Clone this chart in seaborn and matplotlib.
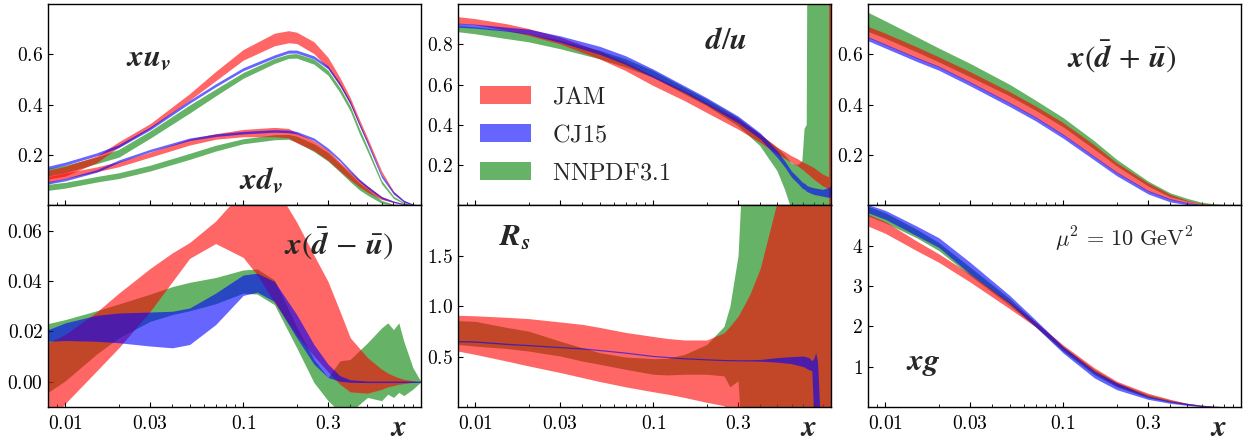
import matplotlib
matplotlib.use("Agg")
import matplotlib.pyplot as plt
import seaborn as sns
from matplotlib.patches import Patch
from matplotlib.ticker import FixedLocator, FixedFormatter, LogLocator, NullFormatter

# ---------------- data ----------------
SERIES = ["JAM", "CJ15", "NNPDF3.1"]

X_VAL = [0.008, 0.01, 0.015, 0.02, 0.03, 0.05, 0.07, 0.1, 0.15, 0.18, 0.2, 0.25,
         0.3, 0.35, 0.4, 0.45, 0.5, 0.6, 0.7, 0.8, 0.9, 1.0]
XUV_JAM_HI = [0.14, 0.156, 0.196, 0.253, 0.325, 0.444, 0.532, 0.619, 0.684, 0.694, 0.688, 0.650,
              0.588, 0.508, 0.428, 0.342, 0.269, 0.137, 0.057, 0.020, 0.004, 0.0]
XUV_JAM_LO = [0.105, 0.117, 0.170, 0.232, 0.306, 0.418, 0.495, 0.577, 0.634, 0.646, 0.643, 0.603,
              0.545, 0.475, 0.402, 0.320, 0.249, 0.123, 0.049, 0.015, 0.001, 0.0]
XUV_CJ_HI = [0.156, 0.172, 0.209, 0.242, 0.312, 0.418, 0.483, 0.547, 0.598, 0.617, 0.617, 0.594,
             0.554, 0.487, 0.414, 0.328, 0.255, 0.123, 0.055, 0.021, 0.006, 0.0]
XUV_CJ_LO = [0.144, 0.160, 0.197, 0.230, 0.300, 0.406, 0.471, 0.535, 0.586, 0.605, 0.605, 0.582,
             0.542, 0.475, 0.402, 0.316, 0.243, 0.111, 0.045, 0.013, 0.002, 0.0]
XUV_NN_HI = [0.147, 0.160, 0.192, 0.223, 0.296, 0.399, 0.462, 0.528, 0.584, 0.601, 0.603, 0.581,
             0.537, 0.468, 0.395, 0.306, 0.232, 0.099, 0.037, 0.012, 0.003, 0.0]
XUV_NN_LO = [0.117, 0.130, 0.166, 0.192, 0.267, 0.367, 0.435, 0.505, 0.564, 0.584, 0.585, 0.561,
             0.517, 0.448, 0.375, 0.285, 0.214, 0.086, 0.028, 0.007, 0.0, 0.0]

XDV_JAM_HI = [0.115, 0.129, 0.153, 0.174, 0.212, 0.264, 0.285, 0.302, 0.310, 0.306, 0.289, 0.257,
              0.219, 0.172, 0.134, 0.102, 0.077, 0.036, 0.017, 0.007, 0.001, 0.0]
XDV_JAM_LO = [0.092, 0.107, 0.134, 0.154, 0.192, 0.240, 0.263, 0.273, 0.273, 0.268, 0.249, 0.218,
              0.179, 0.137, 0.102, 0.074, 0.053, 0.024, 0.012, 0.004, 0.0, 0.0]
XDV_CJ_HI = [0.095, 0.108, 0.142, 0.181, 0.223, 0.268, 0.284, 0.294, 0.301, 0.299, 0.294, 0.268,
             0.228, 0.185, 0.142, 0.105, 0.078, 0.035, 0.018, 0.007, 0.002, 0.0]
XDV_CJ_LO = [0.085, 0.098, 0.132, 0.171, 0.213, 0.258, 0.274, 0.284, 0.291, 0.289, 0.284, 0.258,
             0.218, 0.175, 0.132, 0.095, 0.068, 0.027, 0.012, 0.003, 0.0, 0.0]
XDV_NN_HI = [0.084, 0.092, 0.115, 0.130, 0.160, 0.207, 0.239, 0.265, 0.281, 0.282, 0.275, 0.245,
             0.210, 0.166, 0.126, 0.090, 0.065, 0.020, 0.005, 0.001, 0.0, 0.0]
XDV_NN_LO = [0.060, 0.069, 0.093, 0.107, 0.137, 0.183, 0.216, 0.245, 0.261, 0.263, 0.251, 0.214,
             0.176, 0.133, 0.094, 0.062, 0.041, 0.009, 0.001, 0.0, 0.0, 0.0]

X_DU = [0.008, 0.01, 0.015, 0.02, 0.03, 0.05, 0.07, 0.1, 0.15, 0.2, 0.3, 0.4, 0.5, 0.55, 0.6,
        0.65, 0.69, 0.71, 0.73, 0.75, 0.8, 0.9, 0.975, 0.98, 1.0]
DU_JAM_HI = [0.935, 0.925, 0.9, 0.876, 0.834, 0.765, 0.71, 0.643, 0.569, 0.51, 0.428, 0.353, 0.287,
             0.266, 0.245, 0.23, 0.215, 0.21, 0.205, 0.2, 0.187, 0.154, 0.14, 3.0, 3.0]
DU_JAM_LO = [0.90, 0.895, 0.867, 0.842, 0.80, 0.726, 0.668, 0.594, 0.519, 0.46, 0.378, 0.312, 0.254,
             0.233, 0.212, 0.195, 0.178, 0.17, 0.16, 0.152, 0.13, 0.096, 0.08, -1.0, -1.0]
DU_CJ_HI = [0.905, 0.9, 0.885, 0.875, 0.842, 0.79, 0.743, 0.677, 0.594, 0.535, 0.444, 0.36, 0.27,
            0.22, 0.17, 0.14, 0.115, 0.11, 0.10, 0.095, 0.088, 0.08, 0.09, 0.095, 0.096]
DU_CJ_LO = [0.885, 0.88, 0.865, 0.85, 0.81, 0.75, 0.70, 0.635, 0.56, 0.5, 0.41, 0.33, 0.237,
            0.19, 0.14, 0.11, 0.085, 0.08, 0.07, 0.065, 0.055, 0.046, 0.04, 0.04, 0.046]
DU_NN_HI = [0.89, 0.884, 0.867, 0.85, 0.818, 0.768, 0.726, 0.668, 0.585, 0.527, 0.436, 0.353, 0.287,
            0.25, 0.21, 0.2, 0.22, 0.38, 0.40, 3.0, 3.0, 3.0, 3.0, 3.0, 3.0]
DU_NN_LO = [0.86, 0.85, 0.826, 0.81, 0.776, 0.726, 0.685, 0.635, 0.552, 0.494, 0.395, 0.295, 0.17,
            0.08, -0.02, -0.2, -0.3, -0.3, -0.3, -0.3, -1.0, -1.0, -1.0, -1.0, -1.0]

X_SEA = [0.008, 0.01, 0.015, 0.02, 0.03, 0.05, 0.07, 0.1, 0.15, 0.2, 0.3, 0.4, 0.5, 0.6, 0.7,
         0.8, 0.9, 1.0]
SEA_JAM_HI = [0.711, 0.684, 0.630, 0.590, 0.531, 0.452, 0.395, 0.329, 0.240, 0.170, 0.090, 0.044,
              0.020, 0.008, 0.004, 0.001, 0.0005, 0.0]
SEA_JAM_LO = [0.667, 0.638, 0.585, 0.550, 0.488, 0.406, 0.349, 0.280, 0.192, 0.130, 0.057, 0.024,
              0.009, 0.004, 0.001, 0.0, 0.0, 0.0]
SEA_CJ_HI = [0.670, 0.641, 0.588, 0.553, 0.491, 0.409, 0.352, 0.283, 0.195, 0.133, 0.060, 0.027,
             0.011, 0.005, 0.002, 0.001, 0.0, 0.0]
SEA_CJ_LO = [0.654, 0.625, 0.572, 0.537, 0.475, 0.393, 0.336, 0.267, 0.180, 0.118, 0.046, 0.014,
             0.003, 0.001, 0.0, 0.0, 0.0, 0.0]
SEA_NN_HI = [0.767, 0.733, 0.670, 0.625, 0.564, 0.481, 0.418, 0.349, 0.256, 0.183, 0.097, 0.050,
             0.028, 0.013, 0.007, 0.004, 0.001, 0.0]
SEA_NN_LO = [0.691, 0.664, 0.610, 0.570, 0.511, 0.435, 0.378, 0.312, 0.223, 0.157, 0.077, 0.034,
             0.017, 0.007, 0.003, 0.001, 0.0, 0.0]

X_ASYM = [0.008, 0.01, 0.015, 0.02, 0.03, 0.04, 0.05, 0.07, 0.1, 0.12, 0.15, 0.2, 0.25, 0.3,
          0.35, 0.4, 0.5, 0.6, 0.65, 0.7, 0.75, 0.8, 0.9, 1.0]
ASYM_JAM_HI = [0.0155, 0.0188, 0.0277, 0.0352, 0.045, 0.0512, 0.0553, 0.0638, 0.076, 0.08, 0.078,
               0.0634, 0.0503, 0.0398, 0.028, 0.0175, 0.0096, 0.005, 0.0035, 0.0024, 0.0016, 0.001,
               0.0004, 0.0]
ASYM_JAM_LO = [-0.017, -0.0086, 0.0043, 0.0135, 0.028, 0.0398, 0.049, 0.0549, 0.0494, 0.0424,
               0.0315, 0.0185, 0.0102, 0.004, -0.001, -0.004, -0.0045, -0.003, -0.002, -0.0015,
               -0.001, -0.0007, -0.0002, 0.0]
ASYM_CJ_HI = [0.0207, 0.0234, 0.0264, 0.0273, 0.0277, 0.028, 0.0293, 0.0352, 0.0424, 0.0431, 0.0398,
              0.0267, 0.0148, 0.007, 0.0024, 0.0008, 0.0003, 0.0003, 0.0003, 0.0003, 0.0003, 0.0003,
              0.0003, 0.0003]
ASYM_CJ_LO = [0.0161, 0.0164, 0.0161, 0.0155, 0.0142, 0.0135, 0.0148, 0.0227, 0.0343, 0.0356,
              0.0319, 0.0175, 0.007, 0.0017, 0.0002, -0.0002, -0.0003, -0.0003, -0.0003, -0.0003,
              -0.0003, -0.0003, -0.0003, -0.0003]
ASYM_NN_HI = [0.0231, 0.0247, 0.0282, 0.0309, 0.0348, 0.0378, 0.0395, 0.0414, 0.0444, 0.0448,
              0.0404, 0.0218, 0.0089, 0.0017, 0.0083, 0.0089, 0.0155, 0.0214, 0.0234, 0.0207,
              0.0234, 0.0161, 0.0056, 0.0]
ASYM_NN_LO = [-0.0042, 0.0004, 0.011, 0.0175, 0.024, 0.0267, 0.0282, 0.031, 0.0352, 0.0348, 0.0306,
              0.0135, -0.0003, -0.0075, -0.012, -0.012, -0.0062, -0.0075, -0.0049, -0.0062,
              -0.0042, -0.0055, -0.0029, 0.0]

X_RS = [0.008, 0.01, 0.015, 0.02, 0.03, 0.04, 0.05, 0.07, 0.1, 0.12, 0.15, 0.2, 0.25, 0.27, 0.3,
        0.32, 0.35, 0.4, 0.5, 0.6, 0.7, 0.75, 0.78, 0.8, 0.82, 0.84, 0.86, 0.88, 0.9, 1.0]
RS_JAM_HI = [0.91, 0.905, 0.89, 0.877, 0.844, 0.82, 0.79, 0.74, 0.70, 0.68, 0.665, 0.665, 0.736,
             0.80, 0.90, 0.99, 1.12, 1.376, 2.05, 2.5, 2.5, 2.5, 2.5, 2.5, 2.5, 2.5, 2.5, 2.5, 2.5, 2.5]
RS_JAM_LO = [0.555, 0.522, 0.456, 0.407, 0.342, 0.292, 0.253, 0.2, 0.151, 0.128, 0.095, 0.046, 0.013,
             -0.05, -0.5, -0.5, -0.5, -0.5, -0.5, -0.5, -0.5, -0.5, -0.5, -0.5, -0.5, -0.5, -0.5,
             -0.5, -0.5, -0.5]
RS_CJ_HI = [0.66, 0.656, 0.633, 0.62, 0.6, 0.587, 0.571, 0.545, 0.512, 0.502, 0.489, 0.479, 0.472,
            0.471, 0.469, 0.469, 0.469, 0.472, 0.49, 0.5, 0.505, 0.49, 0.46, 0.48, 0.54, 0.45, 0.05,
            -0.3, -0.4, -0.4]
RS_CJ_LO = [0.647, 0.643, 0.62, 0.608, 0.588, 0.575, 0.559, 0.533, 0.5, 0.49, 0.477, 0.467, 0.46,
            0.459, 0.457, 0.457, 0.456, 0.455, 0.445, 0.43, 0.40, 0.37, 0.36, -0.1, -0.5, -0.5, -0.5,
            -0.5, -0.5, -0.5]
RS_NN_HI = [0.857, 0.85, 0.79, 0.752, 0.653, 0.588, 0.539, 0.496, 0.48, 0.483, 0.522, 0.62, 0.80,
            1.0, 1.5, 2.5, 2.5, 2.5, 2.5, 2.5, 2.5, 2.5, 2.5, 2.5, 2.5, 2.5, 2.5, 2.5, 2.5, 2.5]
RS_NN_LO = [0.621, 0.604, 0.581, 0.555, 0.506, 0.456, 0.424, 0.374, 0.325, 0.318, 0.325, 0.325,
            0.309, 0.2, 0.26, -0.5, -0.5, -0.5, -0.5, -0.5, -0.5, -0.5, -0.5, -0.5, -0.5, -0.5,
            -0.5, -0.5, -0.5, -0.5]

X_G = [0.008, 0.01, 0.015, 0.02, 0.03, 0.05, 0.07, 0.1, 0.15, 0.2, 0.3, 0.4, 0.5, 0.6, 0.7, 0.8,
       0.9, 1.0]
G_JAM_HI = [4.78, 4.6, 4.12, 3.8, 3.3, 2.61, 2.11, 1.54, 0.97, 0.64, 0.34, 0.19, 0.09, 0.04, 0.02,
            0.005, 0.0, 0.0]
G_JAM_LO = [4.49, 4.31, 3.88, 3.59, 3.1, 2.44, 1.99, 1.42, 0.84, 0.52, 0.25, 0.13, 0.05, 0.01, 0.0,
            0.0, 0.0, 0.0]
G_CJ_HI = [5.02, 4.88, 4.49, 4.2, 3.59, 2.77, 2.16, 1.5, 0.89, 0.6, 0.27, 0.15, 0.09, 0.04, 0.02,
           0.01, 0.0, 0.0]
G_CJ_LO = [4.82, 4.66, 4.25, 3.96, 3.3, 2.57, 1.99, 1.34, 0.72, 0.43, 0.19, 0.09, 0.04, 0.01, 0.0,
           0.0, 0.0, 0.0]
G_NN_HI = [4.98, 4.82, 4.41, 4.08, 3.47, 2.69, 2.11, 1.5, 0.93, 0.61, 0.31, 0.17, 0.09, 0.05, 0.02,
           0.01, 0.005, 0.0]
G_NN_LO = [4.74, 4.57, 4.2, 3.88, 3.26, 2.52, 1.99, 1.38, 0.8, 0.5, 0.23, 0.12, 0.06, 0.02, 0.005,
           0.0, 0.0, 0.0]

X_TICKS = [0.01, 0.03, 0.1, 0.3]
X_TICK_LABELS = ["0.01", "0.03", "0.1", "0.3"]

# ---------------- style ----------------
sns.set_style("ticks")
plt.rcParams.update({
    "mathtext.fontset": "cm",
    "axes.linewidth": 1.0,
    "axes.edgecolor": "black",
    "xtick.direction": "in",
    "ytick.direction": "in",
    "xtick.major.size": 3.5,
    "xtick.minor.size": 2.0,
    "ytick.major.size": 3.5,
    "xtick.major.width": 0.8,
    "ytick.major.width": 0.8,
    "xtick.color": "black",
    "ytick.color": "black",
})
plt.rcParams["font.family"] = ["DejaVu Serif"]

COLORS = {"JAM": "r", "CJ15": "b", "NNPDF3.1": "g"}
ALPHA = 0.6

fig, axes = plt.subplots(2, 3, figsize=(12.48, 4.43), dpi=100)
fig.subplots_adjust(left=0.0385, right=0.9944, top=0.991, bottom=0.0813, wspace=0.0992, hspace=0.0)


def band(ax, x, lo, hi, name):
    ax.fill_between(x, lo, hi, color=COLORS[name], alpha=ALPHA, lw=0)


def draw(ax, x, nn, jam, cj):
    band(ax, x, nn[0], nn[1], "NNPDF3.1")
    band(ax, x, jam[0], jam[1], "JAM")
    band(ax, x, cj[0], cj[1], "CJ15")


ax = axes[0, 0]
draw(ax, X_VAL, (XUV_NN_LO, XUV_NN_HI), (XUV_JAM_LO, XUV_JAM_HI), (XUV_CJ_LO, XUV_CJ_HI))
draw(ax, X_VAL, (XDV_NN_LO, XDV_NN_HI), (XDV_JAM_LO, XDV_JAM_HI), (XDV_CJ_LO, XDV_CJ_HI))
draw(axes[0, 1], X_DU, (DU_NN_LO, DU_NN_HI), (DU_JAM_LO, DU_JAM_HI), (DU_CJ_LO, DU_CJ_HI))
draw(axes[0, 2], X_SEA, (SEA_NN_LO, SEA_NN_HI), (SEA_JAM_LO, SEA_JAM_HI), (SEA_CJ_LO, SEA_CJ_HI))
draw(axes[1, 0], X_ASYM, (ASYM_NN_LO, ASYM_NN_HI), (ASYM_JAM_LO, ASYM_JAM_HI), (ASYM_CJ_LO, ASYM_CJ_HI))
draw(axes[1, 1], X_RS, (RS_NN_LO, RS_NN_HI), (RS_JAM_LO, RS_JAM_HI), (RS_CJ_LO, RS_CJ_HI))
draw(axes[1, 2], X_G, (G_NN_LO, G_NN_HI), (G_JAM_LO, G_JAM_HI), (G_CJ_LO, G_CJ_HI))

YLIMS = [[(0, 0.8), (0, 1.0), (0, 0.8)], [(-0.01, 0.07), (0, 2.0), (0, 5.0)]]
YTICKS = [[[0.2, 0.4, 0.6], [0.2, 0.4, 0.6, 0.8], [0.2, 0.4, 0.6]],
          [[0.0, 0.02, 0.04, 0.06], [0.5, 1.0, 1.5], [1, 2, 3, 4]]]
YTICKLABELS = [[["0.2", "0.4", "0.6"], ["0.2", "0.4", "0.6", "0.8"], ["0.2", "0.4", "0.6"]],
               [["0.00", "0.02", "0.04", "0.06"], ["0.5", "1.0", "1.5"], ["1", "2", "3", "4"]]]

for r in range(2):
    for c in range(3):
        ax = axes[r, c]
        ax.set_xscale("log")
        ax.set_xlim(0.008, 1.0)
        ax.set_ylim(*YLIMS[r][c])
        ax.xaxis.set_major_locator(FixedLocator(X_TICKS))
        ax.xaxis.set_minor_locator(LogLocator(base=10, subs=range(2, 10)))
        ax.xaxis.set_minor_formatter(NullFormatter())
        ax.yaxis.set_major_locator(FixedLocator(YTICKS[r][c]))
        ax.yaxis.set_major_formatter(FixedFormatter(["$" + t + "$" for t in YTICKLABELS[r][c]]))
        ax.tick_params(axis="both", which="major", labelsize=14)
        if r == 0:
            ax.xaxis.set_major_formatter(NullFormatter())
        else:
            ax.xaxis.set_major_formatter(FixedFormatter(["$" + t + "$" for t in X_TICK_LABELS]))
            ax.tick_params(axis="x", pad=6)
            ax.text(0.94, -0.105, r"$\mathbfit{x}$", transform=ax.transAxes, ha="center",
                    va="center", fontsize=21, math_fontfamily="stix")
        for s in ax.spines.values():
            s.set_color("black")
            s.set_linewidth(1.0)

LAB = dict(fontsize=22.5, math_fontfamily="stix", ha="center", va="center")
axes[0, 0].text(0.27, 0.73, r"$\mathbfit{x}\mathbfit{u}_{\mathbfit{v}}$", transform=axes[0, 0].transAxes, **LAB)
axes[0, 0].text(0.57, 0.12, r"$\mathbfit{x}\mathbfit{d}_{\mathbfit{v}}$", transform=axes[0, 0].transAxes, **LAB)
axes[0, 1].text(0.72, 0.82, r"$\mathbfit{d}/\mathbfit{u}$", transform=axes[0, 1].transAxes, **LAB)
axes[0, 2].text(0.68, 0.74, r"$\mathbfit{x}(\bar{\mathbfit{d}}\,+\,\bar{\mathbfit{u}})$", transform=axes[0, 2].transAxes, **LAB)
axes[1, 0].text(0.78, 0.81, r"$\mathbfit{x}(\bar{\mathbfit{d}}\,-\,\bar{\mathbfit{u}})$", transform=axes[1, 0].transAxes, **LAB)
axes[1, 1].text(0.153, 0.84, r"$\mathbfit{R}_{\mathbfit{s}}$", transform=axes[1, 1].transAxes, **LAB)
axes[1, 2].text(0.148, 0.22, r"$\mathbfit{x}\mathbfit{g}$", transform=axes[1, 2].transAxes, **LAB)
axes[1, 2].text(0.686, 0.83, r"$\mu^2\,=\,10\ \mathrm{GeV}^2$", transform=axes[1, 2].transAxes,
                fontsize=16, ha="center", va="center")

handles = [Patch(facecolor=COLORS[n], alpha=ALPHA, lw=0) for n in SERIES]
axes[0, 1].legend(handles, [r"$\mathrm{" + n + "}$" for n in SERIES], loc="lower left",
                  bbox_to_anchor=(0.001, -0.005), frameon=False, fontsize=17.5,
                  handlelength=2.1, handleheight=0.75, labelspacing=0.62, handletextpad=0.85)

fig.savefig("out.png", dpi=100)
